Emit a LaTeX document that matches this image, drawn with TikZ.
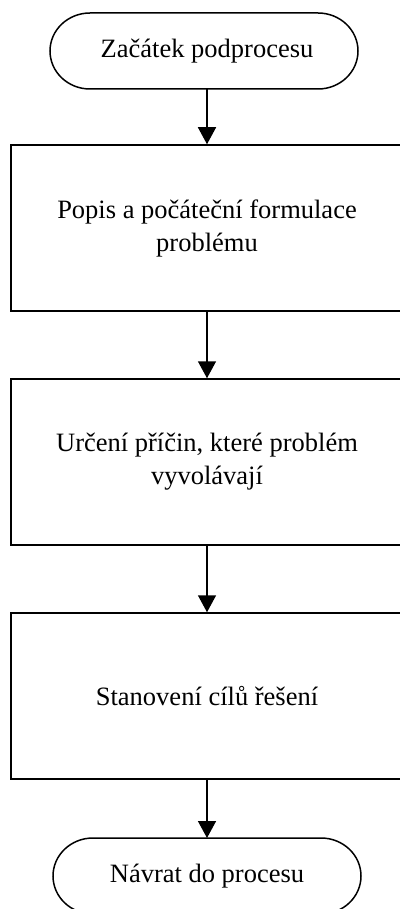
\documentclass[tikz,border=0pt]{standalone}
\usepackage{fontspec}
\setmainfont{Liberation Serif}
\usetikzlibrary{arrows.meta}
\begin{document}
\begin{tikzpicture}[x=1pt,y=-1pt,
  every node/.style={font=\fontsize{26.5}{33}\selectfont, align=center},
  stepbox/.style={draw, line width=1.5pt, minimum width=392pt, minimum height=166pt, inner sep=0pt},
  flow/.style={draw, line width=1.5pt, -{Triangle[width=18pt,length=17pt]}},
  termline/.style={draw, line width=1.5pt}]
  \useasboundingbox (0,0) rectangle (399,909);
  % start terminator
  \draw[termline] (90,13) -- (318,13) arc[start angle=-90,end angle=90,x radius=40,y radius=38]
     -- (90,89) arc[start angle=90,end angle=270,x radius=40,y radius=38] -- cycle;
  \node (start) at (207,51) {Začátek podprocesu};
  \coordinate (startb) at (207,89);
  % process steps
  \node[stepbox] (s1) at (207,228) {Popis a počáteční formulace\\problému};
  \node[stepbox] (s2) at (207,462) {Určení příčin, které problém\\vyvolávají};
  \node[stepbox] (s3) at (207,696) {Stanovení cílů řešení};
  % end terminator
  \draw[termline] (93,838) -- (321,838) arc[start angle=-90,end angle=90,x radius=40,y radius=38]
     -- (93,914) arc[start angle=90,end angle=270,x radius=40,y radius=38] -- cycle;
  \node (end) at (207,876) {Návrat do procesu};
  \coordinate (endt) at (207,838);
  % connectors
  \draw[flow] (startb) -- (s1.north);
  \draw[flow] (s1.south) -- (s2.north);
  \draw[flow] (s2.south) -- (s3.north);
  \draw[flow] (s3.south) -- (endt);
\end{tikzpicture}
\end{document}
